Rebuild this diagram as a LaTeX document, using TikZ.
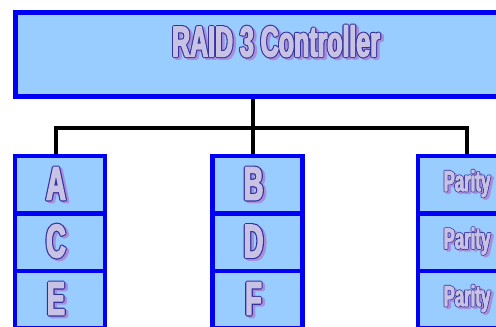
\documentclass[tikz,border=0pt]{standalone}
\usepackage{fontspec}
\newfontfamily\impA[FakeStretch=0.58,FakeBold=3]{Liberation Sans Bold}
\newfontfamily\impB[FakeStretch=0.58,FakeBold=8]{Liberation Sans Bold}
\definecolor{boxfill}{HTML}{99CCFF}
\definecolor{boxline}{HTML}{0000F5}
\definecolor{txtfill}{HTML}{C8C2E4}
\definecolor{txtline}{HTML}{34349E}
\definecolor{txtshd}{HTML}{A98EDC}
\newcommand\ot[2]{%
  \setbox1\hbox{\impB\fontsize{#1}{#1}\selectfont #2}%
  \setbox0\hbox{\impA\fontsize{#1}{#1}\selectfont #2}%
  \leavevmode
  \rlap{\kern2.5pt\lower1.8pt\hbox{\color{txtshd}\copy1}}%
  \rlap{\hbox{\color{txtline}\copy1}}%
  \hbox{\color{txtfill}\copy0}}
\begin{document}
\begin{tikzpicture}[x=1pt,y=-1pt,
  cell/.style={draw=boxline,fill=boxfill,line width=4.5pt,rectangle,
    minimum width=90pt,minimum height=57.5pt,inner sep=0pt},
  lbl/.style={inner sep=0pt,line join=round},
  conn/.style={draw=black,line width=3.5pt}]
\useasboundingbox (0,0) rectangle (496,327);
\clip (0,0) rectangle (496,327);
\fill[white] (0,0) rectangle (496,327);
% controller
\node[draw=boxline,fill=boxfill,line width=5pt,rectangle,inner sep=0pt,
  minimum width=530pt,minimum height=84pt] (ctrl) at (280.5,54.5) {};
\node[lbl] (ctrlt) at (276,42) {\ot{43}{RAID 3 Controller}};
% columns
\node[cell] (A) at (60,184.5) {};
\node[cell] (C) at (60,242) {};
\node[cell] (E) at (60,299.5) {};
\node[cell] (B) at (257.5,184.5) {};
\node[cell] (D) at (257.5,242) {};
\node[cell] (F) at (257.5,299.5) {};
\node[cell] (P1) at (463,184.5) {};
\node[cell] (P2) at (463,242) {};
\node[cell] (P3) at (463,299.5) {};
% labels
\node[lbl] (tA) at ([xshift=-4pt]A.center) {\ot{47}{A}};
\node[lbl] (tC) at ([xshift=-4pt]C.center) {\ot{47}{C}};
\node[lbl] (tE) at ([xshift=-4pt]E.center) {\ot{47}{E}};
\node[lbl] (tB) at ([xshift=-4pt]B.center) {\ot{47}{B}};
\node[lbl] (tD) at ([xshift=-4pt]D.center) {\ot{47}{D}};
\node[lbl] (tF) at ([xshift=-4pt]F.center) {\ot{47}{F}};
\node[lbl] (tP1) at ([xshift=4pt]P1.center) {\ot{29}{Parity}};
\node[lbl] (tP2) at ([xshift=4pt]P2.center) {\ot{29}{Parity}};
\node[lbl] (tP3) at ([xshift=4pt]P3.center) {\ot{29}{Parity}};
% connectors
\coordinate (hub) at (253,128);
\draw[conn] (ctrl.south -| hub) -- (hub);
\draw[conn] ([xshift=-4pt]A.north) |- (hub) -| ([xshift=4pt]P1.north);
\draw[conn] (hub) -- ([xshift=-4.5pt]B.north);
\end{tikzpicture}
\end{document}
